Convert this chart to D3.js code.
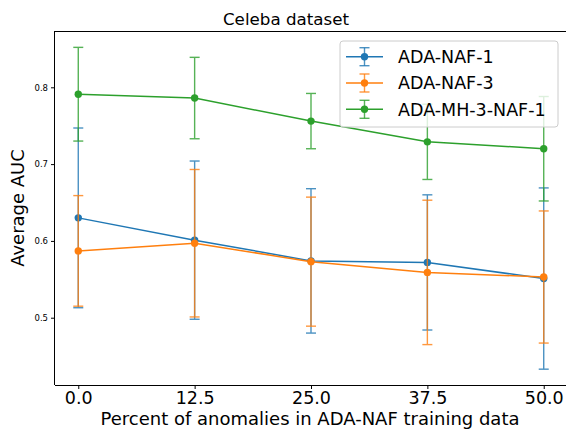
<!DOCTYPE html>
<html lang="en">
<head>
    <meta charset="utf-8">
    <title>Celeba dataset</title>
    <style>
        body { margin: 0; background: white; }
        text { font-family: "DejaVu Sans", sans-serif; fill: #000; }
        .axis path, .axis line { stroke: #000; }
    </style>
</head>
<body>
    <svg width="566" height="430"></svg>
    <script src="https://d3js.org/d3.v7.min.js"></script>
    <script>
        // data
        const percents = [0.0, 12.5, 25.0, 37.5, 50.0];
        const tickLabels = ['0.0', '12.5', '25.0', '37.5', '50.0'];
        const yTicks = [0.5, 0.6, 0.7, 0.8];

        const naf1Mean = [0.630, 0.601, 0.574, 0.572, 0.551];
        const naf1Err = [0.117, 0.103, 0.094, 0.088, 0.118];
        const naf3Mean = [0.587, 0.597, 0.573, 0.559, 0.553];
        const naf3Err = [0.072, 0.096, 0.084, 0.094, 0.086];
        const mhMean = [0.791, 0.786, 0.756, 0.729, 0.720];
        const mhErr = [0.061, 0.053, 0.036, 0.049, 0.068];

        const seriesNames = ['ADA-NAF-1', 'ADA-NAF-3', 'ADA-MH-3-NAF-1'];
        const seriesColors = ['#1f77b4', '#ff7f0e', '#2ca02c'];

        var series = [
            { name: seriesNames[0], color: seriesColors[0], mean: naf1Mean, err: naf1Err },
            { name: seriesNames[1], color: seriesColors[1], mean: naf3Mean, err: naf3Err },
            { name: seriesNames[2], color: seriesColors[2], mean: mhMean, err: mhErr }
        ];

        var svg = d3.select('svg');
        var m = { left: 55, right: 567, top: 31, bottom: 385 };

        var x = d3.scaleLinear().domain([-2.5, 52.5]).range([m.left, m.right]);
        var y = d3.scaleLinear().domain([0.4124, 0.8733]).range([m.bottom, m.top]);

        // axes
        svg.append('g')
            .attr('class', 'axis')
            .attr('transform', `translate(0, ${m.bottom})`)
            .call(d3.axisBottom(x).tickValues(percents).tickSize(4).tickPadding(3)
                .tickFormat((d, i) => tickLabels[i]))
            .call(g => g.select('.domain').attr('d', `M${m.left},0.5H${m.right}`))
            .selectAll('text').style('font-size', '17.5px');

        svg.append('g')
            .attr('class', 'axis')
            .attr('transform', `translate(${m.left}, 0)`)
            .call(d3.axisLeft(y).tickValues(yTicks).tickSize(4).tickPadding(3)
                .tickFormat(d3.format('.1f')))
            .call(g => g.select('.domain').attr('d', `M-0.5,${m.top}V${m.bottom}`))
            .selectAll('text').style('font-size', '8.5px');

        svg.append('line')
            .attr('x1', m.left).attr('x2', m.right)
            .attr('y1', m.top + 0.5).attr('y2', m.top + 0.5)
            .attr('stroke', '#000');

        var line = d3.line()
            .x((d, i) => x(percents[i]))
            .y(d => y(d));

        series.forEach(s => {
            var g = svg.append('g');
            var pts = percents.map((p, i) => ({ p: p, m: s.mean[i], e: s.err[i] }));

            var eb = g.append('g').attr('stroke', s.color).attr('stroke-width', 1.4).attr('opacity', 0.8);
            eb.selectAll('.bar').data(pts).enter().append('line')
                .attr('x1', d => x(d.p)).attr('x2', d => x(d.p))
                .attr('y1', d => y(d.m - d.e)).attr('y2', d => y(d.m + d.e));
            eb.selectAll('.capTop').data(pts).enter().append('line')
                .attr('x1', d => x(d.p) - 5).attr('x2', d => x(d.p) + 5)
                .attr('y1', d => y(d.m + d.e)).attr('y2', d => y(d.m + d.e));
            eb.selectAll('.capBot').data(pts).enter().append('line')
                .attr('x1', d => x(d.p) - 5).attr('x2', d => x(d.p) + 5)
                .attr('y1', d => y(d.m - d.e)).attr('y2', d => y(d.m - d.e));

            g.append('path')
                .attr('d', line(s.mean))
                .attr('fill', 'none')
                .attr('stroke', s.color)
                .attr('stroke-width', 1.5);

            g.selectAll('circle').data(pts).enter().append('circle')
                .attr('cx', d => x(d.p)).attr('cy', d => y(d.m))
                .attr('r', 3.7)
                .attr('fill', s.color);
        });

        // legend
        var lg = svg.append('g').attr('transform', 'translate(340, 41)');
        lg.append('rect')
            .attr('width', 218).attr('height', 86)
            .attr('rx', 3)
            .attr('fill', 'white').attr('fill-opacity', 0.8)
            .attr('stroke', '#ccc');
        series.forEach((s, i) => {
            var row = lg.append('g').attr('transform', `translate(0, ${15.7 + i * 26.3})`);
            row.append('line').attr('x1', 6).attr('x2', 43).attr('y1', 0).attr('y2', 0)
                .attr('stroke', s.color).attr('stroke-width', 1.5);
            row.append('line').attr('x1', 24.5).attr('x2', 24.5).attr('y1', -9).attr('y2', 9)
                .attr('stroke', s.color).attr('stroke-width', 1.4).attr('opacity', 0.8);
            row.append('line').attr('x1', 19.5).attr('x2', 29.5).attr('y1', -9).attr('y2', -9)
                .attr('stroke', s.color).attr('stroke-width', 1.4).attr('opacity', 0.8);
            row.append('line').attr('x1', 19.5).attr('x2', 29.5).attr('y1', 9).attr('y2', 9)
                .attr('stroke', s.color).attr('stroke-width', 1.4).attr('opacity', 0.8);
            row.append('circle').attr('cx', 24.5).attr('cy', 0).attr('r', 3.7).attr('fill', s.color);
            row.append('text').attr('x', 58).attr('y', 6.3)
                .style('font-size', '17.5px').text(s.name);
        });

        // titles
        svg.append('text')
            .attr('x', 286).attr('y', 25)
            .attr('text-anchor', 'middle')
            .style('font-size', '16.7px')
            .text('Celeba dataset');

        svg.append('text')
            .attr('x', 310).attr('y', 425)
            .attr('text-anchor', 'middle')
            .style('font-size', '18px')
            .text('Percent of anomalies in ADA-NAF training data');

        svg.append('text')
            .attr('transform', `translate(24, ${(m.top + m.bottom) / 2}) rotate(-90)`)
            .attr('text-anchor', 'middle')
            .style('font-size', '18px')
            .text('Average AUC');
    </script>
</body>
</html>
